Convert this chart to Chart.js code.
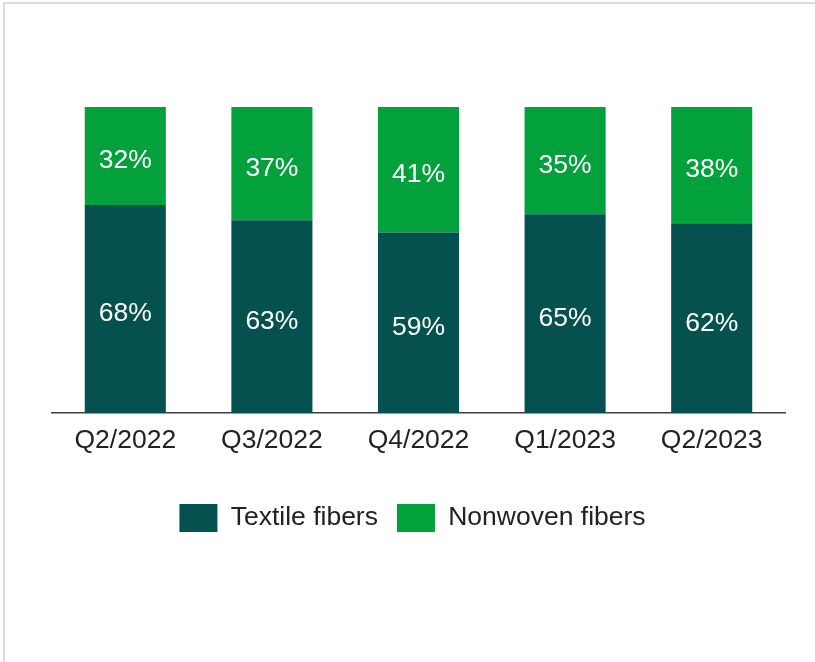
<!DOCTYPE html>
<html>
<head>
<meta charset="utf-8">
<script src="https://cdn.jsdelivr.net/npm/chart.js@4.4.0/dist/chart.umd.min.js"></script>
<style>
  html, body { margin: 0; padding: 0; background: #fff; overflow: hidden; }
  #frame { position: absolute; left: 3px; top: 2px; width: 830px; height: 700px; border: 2px solid #dcdcdc; }
  #wrap { position: absolute; left: 0; top: 0; width: 815px; height: 662px; }
</style>
</head>
<body>
<div id="frame"></div>
<div id="wrap"><canvas id="barChart" width="815" height="662"></canvas></div>
<script>
const quarters = ['Q2/2022', 'Q3/2022', 'Q4/2022', 'Q1/2023', 'Q2/2023'];
const textileShare = [68, 63, 59, 65, 62];
const nonwovenShare = [32, 37, 41, 35, 38];

const darkTeal = '#05514f';
const brightGreen = '#02a13b';
const fontFamily = '"Liberation Sans", Arial, sans-serif';

// simple inline label plugin - writes the % in the middle of each segment
const segmentLabels = {
  id: 'segmentLabels',
  afterDatasetsDraw(chart) {
    const ctx = chart.ctx;
    ctx.save();
    ctx.fillStyle = '#ffffff';
    ctx.font = '26.5px ' + fontFamily;
    ctx.textAlign = 'center';
    ctx.textBaseline = 'middle';
    chart.data.datasets.forEach((ds, i) => {
      chart.getDatasetMeta(i).data.forEach((bar, j) => {
        const mid = (bar.y + bar.base) / 2;
        ctx.fillText(ds.data[j] + '%', bar.x, mid + 5);
      });
    });
    ctx.restore();
  }
};

// legend sits a little left of the plot centre in the original
const nudgeLegend = {
  id: 'nudgeLegend',
  afterLayout(chart) {
    if (chart.legend) {
      chart.legend.left -= 6;
      chart.legend.right -= 6;
    }
  }
};

const ctx = document.getElementById('barChart').getContext('2d');
new Chart(ctx, {
  type: 'bar',
  data: {
    labels: quarters,
    datasets: [
      {
        label: 'Textile fibers',
        data: textileShare,
        backgroundColor: darkTeal,
        borderWidth: 0,
      },
      {
        label: 'Nonwoven fibers',
        data: nonwovenShare,
        backgroundColor: brightGreen,
        borderWidth: 0,
      },
    ],
  },
  options: {
    responsive: false,
    animation: false,
    devicePixelRatio: 1,
    categoryPercentage: 1,
    barPercentage: 0.553,
    layout: {
      padding: { top: 107, left: 52, right: 30, bottom: 120 }
    },
    scales: {
      x: {
        stacked: true,
        grid: { display: false, drawTicks: false },
        border: { display: true, color: '#404040', width: 1.5 },
        ticks: {
          color: '#222222',
          padding: 12,
          font: { family: fontFamily, size: 26.5 }
        },
        afterFit(scale) {
          // extra room between the axis labels and the legend
          scale.height += 16;
        }
      },
      y: {
        stacked: true,
        display: false,
        min: 0,
        max: 100
      }
    },
    plugins: {
      tooltip: { enabled: false },
      legend: {
        position: 'bottom',
        labels: {
          boxWidth: 38,
          boxHeight: 28,
          padding: 19,
          color: '#222222',
          font: { family: fontFamily, size: 26.5 }
        }
      }
    }
  },
  plugins: [segmentLabels, nudgeLegend]
});
</script>
</body>
</html>
